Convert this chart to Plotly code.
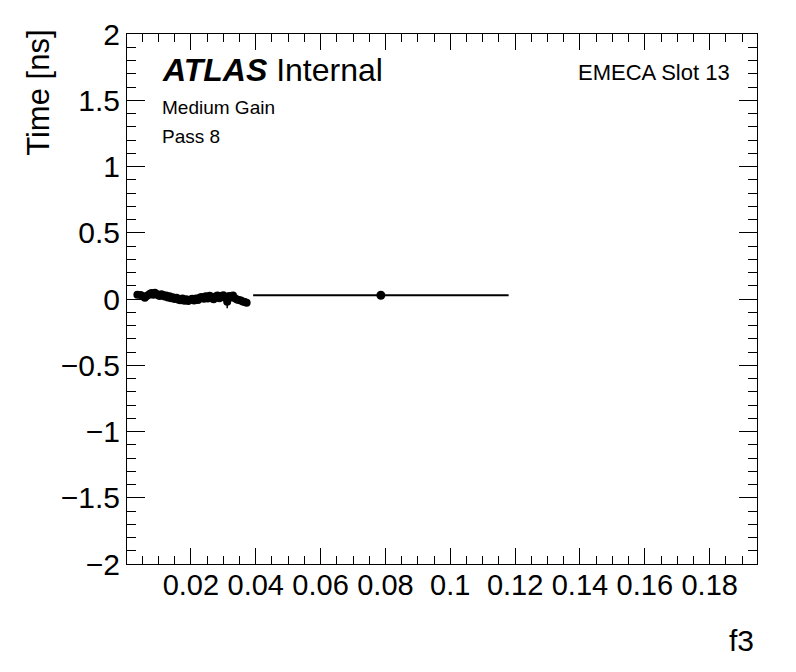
import plotly.graph_objects as go

# cluster of channels at low f3
f3_vals = [0.0035, 0.0045, 0.0052, 0.0058, 0.0064, 0.0069, 0.0074, 0.0079, 0.0084, 0.0089,
           0.0094, 0.0099, 0.0104, 0.0109, 0.0114, 0.0119, 0.0124, 0.0129, 0.0134, 0.0139,
           0.0144, 0.0150, 0.0156, 0.0162, 0.0168, 0.0174, 0.0180, 0.0186, 0.0192, 0.0198,
           0.0204, 0.0210, 0.0216, 0.0222, 0.0228, 0.0234, 0.0240, 0.0246, 0.0252, 0.0258,
           0.0264, 0.0270, 0.0276, 0.0282, 0.0288, 0.0294, 0.0300, 0.0306, 0.0312, 0.0318,
           0.0324, 0.0330, 0.0336, 0.0342, 0.0348, 0.0354, 0.0360, 0.0366, 0.0372]
time_vals = [0.032, 0.030, 0.020, 0.010, 0.022, 0.030, 0.040, 0.045, 0.032, 0.048,
             0.038, 0.028, 0.022, 0.036, 0.030, 0.018, 0.026, 0.012, 0.020, 0.006,
             0.014, 0.000, 0.010, -0.006, -0.010, 0.004, -0.014, -0.002, -0.016, -0.006,
             0.002, -0.012, 0.004, -0.008, 0.012, 0.016, 0.002, 0.020, 0.004, 0.024,
             0.010, -0.002, 0.018, 0.026, 0.006, 0.020, 0.028, 0.010, -0.020, 0.022,
             0.012, 0.026, 0.006, -0.004, -0.008, -0.012, -0.018, -0.022, -0.028]
time_errs = [0.015, 0.015, 0.015, 0.015, 0.015, 0.015, 0.015, 0.015, 0.015, 0.015,
             0.015, 0.015, 0.015, 0.015, 0.015, 0.015, 0.015, 0.015, 0.015, 0.015,
             0.015, 0.015, 0.015, 0.015, 0.015, 0.015, 0.015, 0.015, 0.015, 0.015,
             0.015, 0.015, 0.015, 0.015, 0.015, 0.015, 0.015, 0.015, 0.015, 0.015,
             0.015, 0.015, 0.015, 0.015, 0.015, 0.015, 0.015, 0.015, 0.050, 0.015,
             0.015, 0.015, 0.015, 0.015, 0.015, 0.015, 0.015, 0.015, 0.015]

# single wide bin
wide_f3 = [0.0786]
wide_time = [0.028]
wide_f3_err = [0.0394]

x_ticks = [0.02, 0.04, 0.06, 0.08, 0.1, 0.12, 0.14, 0.16, 0.18]
x_ticktext = ["0.02", "0.04", "0.06", "0.08", "0.1", "0.12", "0.14", "0.16", "0.18"]

FONT = "Liberation Sans, Arial, Helvetica, sans-serif"

fig = go.Figure()

fig.add_trace(go.Scatter(
    x=f3_vals, y=time_vals, mode="markers",
    marker=dict(color="black", size=8, symbol="circle"),
    error_y=dict(type="data", array=time_errs, color="black", thickness=1.5, width=0),
    showlegend=False,
))
fig.add_trace(go.Scatter(
    x=wide_f3, y=wide_time, mode="markers",
    marker=dict(color="black", size=9, symbol="circle"),
    error_x=dict(type="data", array=wide_f3_err, color="black", thickness=2, width=0),
    showlegend=False,
))

axis_common = dict(
    showgrid=False, zeroline=False, showline=True, linecolor="black", linewidth=1,
    mirror="allticks", ticks="inside", tickcolor="black", tickwidth=1,
)

fig.update_xaxes(
    range=[0.0003, 0.1946], tickvals=x_ticks, ticktext=x_ticktext, ticklen=16,
    tickfont=dict(family=FONT, size=29, color="black"),
    ticklabelstandoff=-5,
    minor=dict(ticks="inside", ticklen=8, dtick=0.005, tick0=0, tickcolor="black"),
    **axis_common,
)
fig.update_yaxes(
    range=[-2, 2], dtick=0.5, tick0=0, ticklen=18,
    tickfont=dict(family=FONT, size=30, color="black"),
    minor=dict(ticks="inside", ticklen=9, dtick=0.1, tick0=0, tickcolor="black"),
    **axis_common,
)

fig.add_annotation(
    text="<b><i>ATLAS</i></b> Internal", xref="paper", yref="paper",
    x=0.052, y=0.932, xanchor="left", yanchor="middle", showarrow=False,
    font=dict(family=FONT, size=32, color="black"),
)
fig.add_annotation(
    text="Medium Gain", xref="paper", yref="paper",
    x=0.052, y=0.862, xanchor="left", yanchor="middle", showarrow=False,
    font=dict(family=FONT, size=19, color="black"),
)
fig.add_annotation(
    text="Pass 8", xref="paper", yref="paper",
    x=0.052, y=0.8075, xanchor="left", yanchor="middle", showarrow=False,
    font=dict(family=FONT, size=19, color="black"),
)
fig.add_annotation(
    text="EMECA Slot 13", xref="paper", yref="paper",
    x=0.960, y=0.928, xanchor="right", yanchor="middle", showarrow=False,
    font=dict(family=FONT, size=22, color="black"),
)
fig.add_annotation(
    text="Time [ns]", xref="paper", yref="paper",
    x=-0.141, y=1.012, xanchor="center", yanchor="top", textangle=-90, showarrow=False,
    font=dict(family=FONT, size=31, color="black"),
)
fig.add_annotation(
    text="f3", xref="paper", yref="paper",
    x=0.976, y=-0.1434, xanchor="center", yanchor="middle", showarrow=False,
    font=dict(family=FONT, size=30, color="black"),
)

# page body adds an 8px offset, so margins are shifted to compensate
fig.update_layout(
    width=796, height=672,
    margin=dict(l=119, r=47, t=26, b=116, autoexpand=False),
    plot_bgcolor="white", paper_bgcolor="white",
    font=dict(family=FONT, color="black"),
)

fig.write_html("out.html")
